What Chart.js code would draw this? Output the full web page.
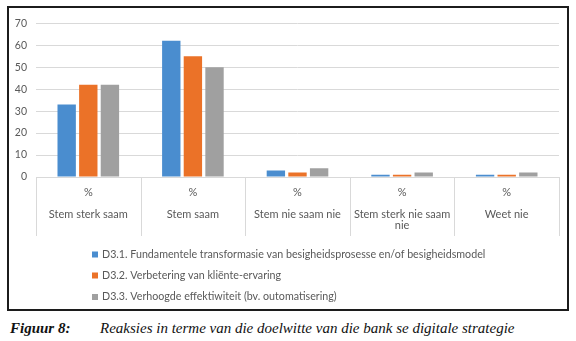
<!DOCTYPE html>
<html>
<head>
<meta charset="utf-8">
<script src="https://cdn.jsdelivr.net/npm/chart.js@4.4.0/dist/chart.umd.min.js"></script>
<style>
  html, body { margin: 0; padding: 0; background: #fff; }
  body { width: 576px; height: 341px; position: relative; overflow: hidden; }
  #frame { position: absolute; left: 7px; top: 6px; width: 558px; height: 301px; border: 2px solid #1c1c1c; }
  #c { display: block; }
  #caption { position: absolute; left: 10px; top: 320px; line-height: 17px; font-family: "Liberation Serif", "DejaVu Serif", serif; font-style: italic; font-size: 15px; color: #111; white-space: nowrap; }
  #caption b { display: inline-block; width: 90px; }
</style>
</head>
<body>
<div id="frame"><canvas id="c" width="558" height="301"></canvas></div>
<div id="caption"><b>Figuur 8:</b>Reaksies in terme van die doelwitte van die bank se digitale strategie</div>
<script>
const unitLabel = "%";
const categories = ["Stem sterk saam", "Stem saam", "Stem nie saam nie", ["Stem sterk nie saam", "nie"], "Weet nie"];
const seriesNames = [
  "D3.1. Fundamentele transformasie van besigheidsprosesse en/of besigheidsmodel",
  "D3.2. Verbetering van kliënte-ervaring",
  "D3.3. Verhoogde effektiwiteit (bv. outomatisering)"
];
const seriesD31 = [33, 62, 3, 1, 1];
const seriesD32 = [42, 55, 2, 1, 1];
const seriesD33 = [42, 50, 4, 2, 2];
const yMin = 0, yMax = 70, yStep = 10;

const colors = ["#4A8DCF", "#EB7228", "#A0A0A0"];
const textColor = "#595959";
const gridColor = "#D9D9D9";
const FONT = "Lato, 'Open Sans', sans-serif";

const labels = categories.map(c => [unitLabel, ""].concat(Array.isArray(c) ? c : [c]));

const dividerPlugin = {
  id: "dividers",
  afterDraw(chart) {
    const ctx = chart.ctx;
    const xs = chart.scales.x;
    const area = chart.chartArea;
    const n = xs.ticks.length;
    const pts = [];
    for (let i = 0; i <= n; i++) {
      let x;
      if (i === 0) x = area.left;
      else if (i === n) x = area.right;
      else x = (xs.getPixelForValue(i - 1) + xs.getPixelForValue(i)) / 2;
      pts.push(Math.round(x) + 0.5);
    }
    ctx.save();
    ctx.strokeStyle = gridColor;
    ctx.lineWidth = 1;
    pts.forEach(x => {
      ctx.beginPath();
      ctx.moveTo(x, area.bottom);
      ctx.lineTo(x, area.bottom + 59);
      ctx.stroke();
    });
    // custom vertical legend
    ctx.font = "10.7px " + FONT;
    ctx.textBaseline = "middle";
    ctx.textAlign = "left";
    const ys = [246.5, 267.5, 289];
    chart.data.datasets.forEach((ds, i) => {
      ctx.fillStyle = ds.backgroundColor;
      ctx.fillRect(83, ys[i] - 3, 6, 6);
      ctx.fillStyle = textColor;
      ctx.fillText(ds.label, 93, ys[i]);
    });
    ctx.restore();
  }
};

new Chart(document.getElementById("c"), {
  type: "bar",
  data: {
    labels: labels,
    datasets: [
      { label: seriesNames[0], data: seriesD31, backgroundColor: colors[0] },
      { label: seriesNames[1], data: seriesD32, backgroundColor: colors[1] },
      { label: seriesNames[2], data: seriesD33, backgroundColor: colors[2] }
    ]
  },
  options: {
    responsive: false,
    animation: false,
    datasets: { bar: { categoryPercentage: 0.62, barPercentage: 0.85 } },
    layout: { padding: { left: 0, right: 8, top: 13, bottom: 72 } },
    plugins: { legend: { display: false }, tooltip: { enabled: false } },
    scales: {
      x: {
        grid: { display: false },
        border: { display: true, color: gridColor },
        ticks: { color: textColor, font: { family: FONT, size: 11, lineHeight: 1.0 }, padding: 2, maxRotation: 0, autoSkip: false },
        afterFit: s => { s.height = 60; }
      },
      y: {
        min: yMin, max: yMax,
        grid: { color: gridColor, drawTicks: false },
        border: { display: false },
        ticks: { stepSize: yStep, color: textColor, font: { family: FONT, size: 10.5 }, padding: 9 },
        afterFit: s => { s.width = 27; }
      }
    }
  },
  plugins: [dividerPlugin]
});
</script>
</body>
</html>
